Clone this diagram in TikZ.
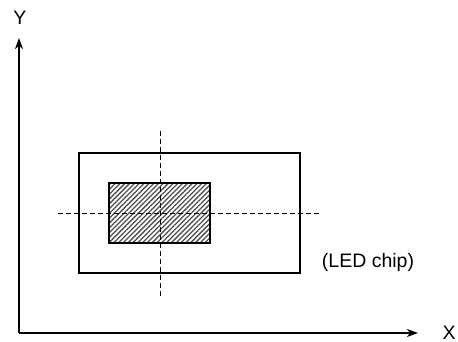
\documentclass[tikz,border=0pt]{standalone}
\usepackage{fontspec}
\setmainfont{Liberation Sans}
\usetikzlibrary{arrows.meta,patterns.meta}
\begin{document}
\begin{tikzpicture}[
	x=1pt,
	y=-1pt,
	axis/.style={
		line width=1.4pt,
		-{Stealth[length=11pt,width=8pt,inset=3pt]}
	},
	label/.style={
		font=\fontsize{19.5}{23}\selectfont,
		inner sep=0pt
	},
	chip/.style={
		rectangle,
		draw=black,
		line width=2pt,
		minimum width=221pt,
		minimum height=120pt
	},
	die/.style={
		rectangle,
		draw=black,
		line width=2pt,
		pattern={Lines[angle=45,distance=3.4pt,line width=1.3pt]},
		pattern color=black!70,
		minimum width=101pt,
		minimum height=60pt
	},
	centerline/.style={
		line width=1pt,
		dash pattern=on 5pt off 3pt
	},
]

\useasboundingbox (0,0) rectangle (458,342);

\coordinate (origin) at (19,333);
\coordinate (y_end) at (19,38);
\coordinate (x_end) at (418,333);

\node[label] (y_label) at (20,18) {Y};
\node[label] (x_label) at (449,333) {X};

\draw[axis] (origin) -- (y_end);
\draw[axis] (origin) -- (x_end);

\node[chip] (chip) at (189.5,213) {};
\node[die] (die) at (159.5,213) {};

\node[label] (chip_label) at (368,262) {(LED chip)};

\coordinate (v_top) at (160,131);
\coordinate (v_bottom) at (160,296);
\coordinate (h_left) at (58,213);
\coordinate (h_right) at (321,213);

\draw[centerline] (v_top) -- (v_bottom);
\draw[centerline] (h_left) -- (h_right);

\end{tikzpicture}
\end{document}
